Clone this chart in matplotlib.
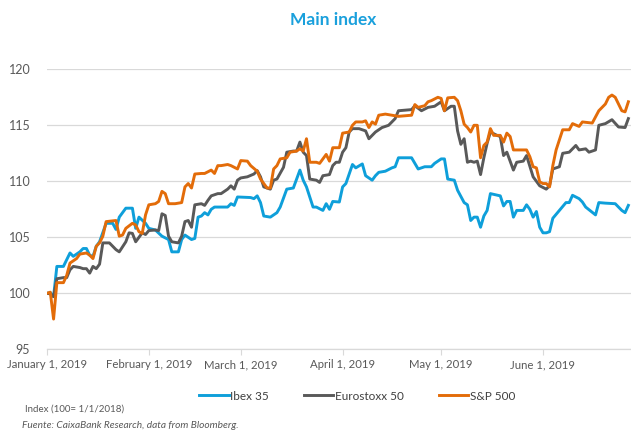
import matplotlib
matplotlib.use("Agg")
import matplotlib.pyplot as plt
import matplotlib.dates as mdates
import numpy as np
import pandas as pd

plt.rcParams['font.family'] = ['Lato', 'DejaVu Sans']

start_date = "2019-01-01"

ibex_days = [0, 1, 2, 3, 5, 7, 8, 10, 11, 12, 13, 14, 15, 16, 18, 20, 21, 22, 24, 26, 27, 28, 30, 31, 33, 35, 37, 38, 40, 41, 42, 44, 45, 46, 47, 48, 49, 50, 51, 55, 56, 57, 58, 62, 63, 64, 65, 66, 68, 70, 71, 73, 75, 77, 78, 79, 81, 82, 84, 85, 86, 87, 89, 90, 91, 93, 94, 96, 97, 99, 100, 101, 103, 105, 106, 107, 111, 113, 115, 117, 118, 120, 121, 122, 123, 124, 125, 127, 128, 129, 130, 131, 132, 133, 134, 135, 138, 139, 140, 141, 142, 143, 145, 146, 147, 148, 149, 150, 151, 152, 153, 154, 156, 158, 159, 160, 162, 163, 164, 167, 168, 170, 173, 175, 176, 177]
ibex_vals = [100.0, 100.05, 99.7, 102.4, 102.4, 103.6, 103.3, 103.7, 104.0, 104.0, 103.4, 103.3, 104.2, 104.6, 106.25, 106.25, 105.7, 106.8, 107.6, 107.6, 105.8, 106.8, 106.25, 105.8, 105.65, 105.1, 104.8, 103.7, 103.7, 104.8, 105.2, 104.8, 104.9, 106.8, 106.9, 107.2, 107.0, 107.5, 107.7, 107.7, 108.0, 107.85, 108.6, 108.55, 108.45, 108.7, 108.1, 106.9, 106.8, 107.2, 107.7, 109.3, 109.4, 111.0, 110.1, 109.5, 107.7, 107.7, 107.4, 108.0, 107.5, 108.2, 108.15, 109.5, 109.8, 111.5, 111.2, 111.55, 110.5, 110.1, 110.5, 110.8, 110.9, 111.2, 111.3, 112.1, 112.1, 111.1, 111.3, 111.3, 111.6, 112.0, 112.0, 110.2, 110.15, 110.1, 109.2, 108.1, 107.9, 106.5, 106.8, 106.8, 105.9, 106.9, 107.4, 108.9, 108.7, 107.8, 108.2, 108.2, 106.8, 107.4, 107.4, 107.9, 107.5, 106.8, 107.3, 105.9, 105.4, 105.4, 105.5, 106.7, 107.4, 108.1, 108.1, 108.75, 108.45, 108.15, 107.7, 107.0, 108.1, 108.05, 108.0, 107.4, 107.2, 107.85]

euro_days = [0, 1, 2, 3, 5, 6, 7, 8, 10, 11, 12, 13, 14, 15, 16, 17, 19, 21, 22, 24, 25, 26, 27, 29, 30, 31, 33, 34, 35, 36, 37, 38, 40, 41, 42, 43, 44, 45, 47, 48, 49, 50, 52, 53, 55, 56, 57, 58, 59, 61, 63, 64, 65, 66, 68, 69, 70, 72, 73, 75, 76, 77, 78, 79, 80, 82, 83, 84, 86, 87, 88, 89, 90, 91, 92, 93, 95, 97, 98, 100, 102, 104, 106, 107, 111, 112, 114, 116, 118, 120, 121, 123, 124, 125, 126, 127, 128, 129, 130, 131, 132, 133, 134, 135, 137, 138, 139, 140, 142, 143, 145, 146, 148, 150, 152, 153, 154, 156, 157, 159, 161, 162, 164, 165, 167, 168, 170, 172, 174, 176, 177]
euro_vals = [100.0, 99.95, 99.7, 101.3, 101.4, 101.4, 102.1, 102.4, 102.3, 102.2, 102.2, 101.8, 102.4, 102.2, 102.6, 104.5, 104.5, 103.9, 103.7, 104.6, 105.4, 105.35, 104.6, 105.4, 105.25, 105.6, 105.65, 105.6, 107.1, 106.95, 105.1, 104.6, 104.5, 105.1, 106.4, 106.5, 105.9, 107.9, 108.0, 107.85, 108.3, 108.7, 108.9, 108.9, 109.3, 109.6, 109.3, 110.1, 110.3, 110.4, 110.65, 110.95, 110.4, 109.5, 109.3, 110.1, 110.2, 111.25, 112.6, 112.7, 112.7, 113.5, 112.6, 112.3, 110.2, 110.1, 109.9, 110.5, 110.6, 111.4, 111.7, 111.7, 112.6, 113.0, 114.4, 114.7, 114.7, 114.5, 113.8, 114.4, 114.8, 115.0, 115.6, 116.3, 116.4, 116.75, 116.3, 116.6, 116.7, 117.1, 116.3, 116.7, 116.7, 114.5, 113.3, 113.8, 111.7, 111.8, 111.7, 111.8, 110.6, 112.1, 113.4, 114.4, 114.1, 114.0, 112.3, 112.6, 111.0, 111.7, 111.8, 112.3, 110.4, 109.6, 109.3, 109.6, 111.1, 111.3, 112.5, 112.6, 113.2, 112.8, 112.9, 112.6, 112.8, 115.0, 115.15, 115.5, 114.85, 114.8, 115.6]

sp_days = [0, 1, 2, 3, 5, 6, 7, 9, 10, 12, 13, 14, 15, 16, 17, 18, 21, 22, 23, 24, 26, 27, 28, 29, 30, 31, 33, 34, 35, 36, 37, 39, 41, 42, 43, 44, 45, 47, 48, 50, 51, 52, 53, 55, 56, 58, 59, 61, 62, 64, 65, 66, 67, 68, 69, 70, 71, 73, 74, 76, 77, 78, 79, 80, 82, 83, 85, 86, 87, 89, 90, 92, 93, 94, 96, 97, 98, 99, 100, 101, 103, 105, 107, 111, 112, 113, 115, 116, 117, 119, 120, 121, 122, 124, 125, 126, 127, 128, 129, 130, 131, 132, 133, 134, 135, 136, 138, 139, 140, 141, 142, 144, 146, 147, 148, 149, 150, 151, 152, 153, 154, 155, 157, 159, 160, 162, 163, 166, 168, 170, 171, 172, 173, 175, 176, 177]
sp_vals = [100.0, 100.1, 97.7, 100.95, 100.95, 101.6, 102.7, 103.1, 103.5, 103.6, 103.4, 103.1, 104.2, 104.5, 105.1, 106.4, 106.5, 105.1, 105.2, 105.8, 106.25, 106.1, 105.5, 105.35, 107.0, 107.9, 108.0, 108.2, 109.1, 108.9, 108.0, 108.0, 108.1, 109.5, 109.8, 109.4, 110.65, 110.7, 110.7, 111.0, 110.7, 111.4, 111.4, 111.5, 111.4, 111.1, 111.85, 111.8, 111.4, 110.9, 110.2, 109.8, 109.4, 109.4, 111.1, 111.4, 112.0, 112.1, 112.6, 112.7, 112.9, 112.7, 113.8, 111.7, 111.7, 111.6, 112.4, 111.8, 113.0, 113.0, 114.3, 114.4, 115.0, 115.3, 115.3, 115.4, 114.8, 115.3, 115.1, 115.9, 116.0, 115.9, 115.8, 115.9, 116.85, 116.6, 116.75, 117.1, 117.2, 117.5, 117.4, 116.3, 117.45, 117.5, 117.2, 116.3, 115.1, 114.8, 114.4, 115.0, 115.0, 112.1, 113.2, 113.5, 114.7, 114.1, 114.1, 113.5, 114.3, 114.0, 112.8, 112.8, 112.8, 112.2, 111.3, 111.2, 109.95, 109.8, 109.8, 109.5, 111.4, 112.8, 114.6, 114.6, 115.15, 114.9, 115.3, 115.2, 116.3, 116.9, 117.5, 117.7, 117.5, 116.3, 116.2, 117.1]

series_names = ["Ibex 35", "Eurostoxx 50", "S&P 500"]
series_colors = ["#0E9FDA", "#595959", "#E36C09"]

tick_dates = ["2019-01-01", "2019-02-01", "2019-03-01", "2019-04-01", "2019-05-01", "2019-06-01"]
tick_labels = ["January 1, 2019", "February 1, 2019", "March 1, 2019", "April 1, 2019", "May 1, 2019", "June 1, 2019"]
y_ticks = [95, 100, 105, 110, 115, 120]

t0 = pd.Timestamp(start_date)
def to_dates(days):
    return t0 + pd.to_timedelta(np.array(days), unit="D")

fig = plt.figure(figsize=(6.31, 4.32), dpi=100)
ax = fig.add_axes([47/631, 1 - 349.3/432, (631 - 47)/631, (349.3 - 69.3)/432])

for d, v, name, col in zip([ibex_days, euro_days, sp_days], [ibex_vals, euro_vals, sp_vals], series_names, series_colors):
    ax.plot(to_dates(d), v, color=col, lw=2.1, label=name, solid_joinstyle="round")

ax.set_ylim(95, 120)
ax.set_xlim(t0, t0 + pd.Timedelta(days=177.8))
ax.set_yticks(y_ticks)
ax.set_yticklabels([str(y) for y in y_ticks])
ax.set_xticks(pd.to_datetime(tick_dates))
ax.set_xticklabels(tick_labels)
ax.yaxis.grid(True, color="#D9D9D9", lw=0.9)
ax.set_axisbelow(True)
for s in ["top", "right", "left"]:
    ax.spines[s].set_visible(False)
ax.spines["bottom"].set_color("#D9D9D9")
ax.spines["bottom"].set_linewidth(0.9)
ax.tick_params(axis="y", length=0, pad=12, labelsize=9, labelcolor="#595959")
ax.tick_params(axis="x", length=4, color="#D9D9D9", pad=3, labelsize=8.2, labelcolor="#595959")

fig.text(333/631, 1 - 20/432, "Main index", ha="center", va="center", fontsize=12.5, fontweight="bold", color="#1AA0DC")

leg = fig.legend(loc="center", bbox_to_anchor=(357/631, 1 - 396/432), ncol=3, frameon=False,
                 fontsize=8.5, handlelength=2.5, handletextpad=0.1, columnspacing=3.0, labelcolor="#404040")

fig.text(25/631, 1 - 409/432, "Index (100= 1/1/2018)", ha="left", va="center", fontsize=7, color="#595959")
fig.text(22/631, 1 - 426/432, "Fuente: CaixaBank Research, data from Bloomberg.", ha="left", va="center", fontsize=7.3, color="#595959", style="italic")

fig.savefig("out.png", dpi=100)
